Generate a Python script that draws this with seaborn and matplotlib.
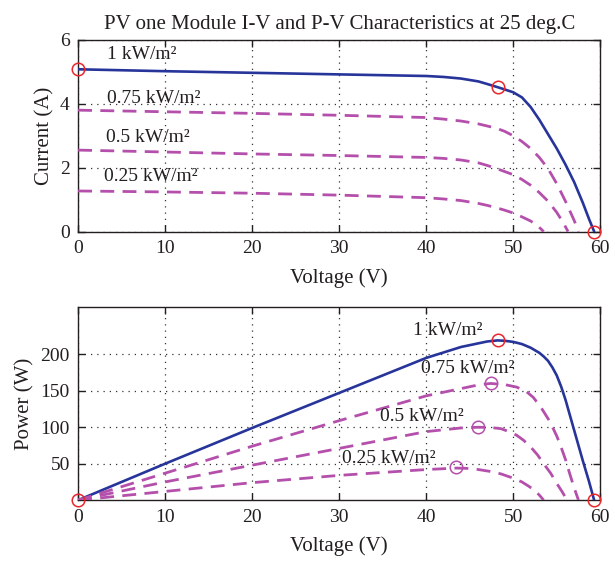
import matplotlib
matplotlib.use("Agg")
import matplotlib.pyplot as plt
import seaborn as sns
import pandas as pd

# ---- data ----
# I-V curves (voltage in V, current in A)
v_iv_1000 = [0, 10, 20, 30, 40, 42, 44, 46, 47, 48.2, 49, 50, 51, 52, 53, 54, 55, 56, 57, 58, 58.7, 59.3]
i_iv_1000 = [5.08, 5.02, 4.97, 4.92, 4.87, 4.84, 4.79, 4.70, 4.62, 4.52, 4.45, 4.36, 4.20, 3.90,
             3.50, 3.05, 2.60, 2.10, 1.55, 0.90, 0.40, 0.0]

v_iv_750 = [0, 10, 20, 30, 40, 42, 44, 46, 48, 49, 50, 51, 52, 53, 54, 55, 56, 57, 57.5]
i_iv_750 = [3.80, 3.75, 3.70, 3.64, 3.57, 3.52, 3.46, 3.37, 3.24, 3.14, 3.0, 2.82, 2.60, 2.32,
            1.97, 1.50, 0.95, 0.35, 0.0]

v_iv_500 = [0, 10, 20, 30, 40, 42, 44, 46, 47, 48, 49, 50, 51, 52, 53, 54, 55, 55.7, 56.3]
i_iv_500 = [2.55, 2.49, 2.43, 2.38, 2.32, 2.29, 2.24, 2.15, 2.07, 1.98, 1.88, 1.78, 1.63, 1.45,
            1.22, 0.95, 0.60, 0.30, 0.0]

v_iv_250 = [0, 10, 20, 30, 40, 42, 44, 46, 47, 48, 49, 50, 51, 52, 52.8, 53.5]
i_iv_250 = [1.27, 1.24, 1.20, 1.14, 1.06, 1.02, 0.97, 0.88, 0.82, 0.75, 0.67, 0.58, 0.46, 0.33,
            0.18, 0.0]

# P-V curves (voltage in V, power in W)
v_pv_1000 = [0, 10, 20, 30, 40, 44, 46, 47, 48.2, 49, 50, 51, 52, 53, 53.5, 54, 54.5, 55, 55.5,
             56, 56.5, 57, 57.5, 58, 58.7, 59.3]
p_pv_1000 = [0, 50, 99, 147, 195, 210, 215, 217.5, 219, 218.5, 217, 214, 209, 202, 197, 191, 182,
             171, 156, 138, 117, 96, 75, 54, 26, 0]

v_pv_750 = [0, 10, 20, 30, 40, 44, 46, 47.4, 49, 50.4, 51.5, 52.3, 53.2, 54.2, 55, 55.4, 56,
            56.5, 57, 57.5]
p_pv_750 = [0, 37, 74, 109, 143, 153, 158, 160, 158.5, 155, 149, 141, 127, 108, 88, 76, 56, 36,
            17, 0]

v_pv_500 = [0, 10, 20, 30, 40, 44, 46, 47.5, 48.6, 49.5, 50.4, 51.2, 52, 52.8, 53.5, 54.3, 55,
            55.6, 56.2]
p_pv_500 = [0, 25, 48, 71, 94, 99, 100, 99.5, 98, 94, 89, 82, 73, 62, 50, 37, 23, 12, 0]

v_pv_250 = [0, 10, 20, 30, 40, 43.5, 45, 46, 47.3, 48.6, 49.8, 51, 51.8, 52.5, 53, 53.5]
p_pv_250 = [0, 12, 24, 34, 42, 44, 43.5, 42, 39.5, 36, 31, 25, 19, 13, 7, 0]

# marked points (open circles)
iv_red_v = [0, 48.2, 59.3]
iv_red_i = [5.08, 4.52, 0.0]
pv_red_v = [0, 48.2, 59.3]
pv_red_p = [0, 219, 0]
pv_mag_v = [47.4, 46.0, 43.4]
pv_mag_p = [160, 100, 45]

irr_labels = ["1 kW/m²", "0.75 kW/m²", "0.5 kW/m²", "0.25 kW/m²"]
iv_label_pos = [(3.3, 5.55), (3.3, 4.16), (3.2, 2.96), (3.0, 1.71)]
pv_label_pos = [(38.5, 233), (39.4, 181), (34.7, 115), (30.3, 57.5)]

x_ticks = [0, 10, 20, 30, 40, 50, 60]
iv_yticks = [0, 2, 4, 6]
pv_yticks = [50, 100, 150, 200]

# ---- style ----
sns.set_theme(style="ticks")
plt.rcParams["font.family"] = ["Liberation Serif", "DejaVu Serif"]
plt.rcParams["text.color"] = "#231f20"
plt.rcParams["axes.labelcolor"] = "#231f20"
plt.rcParams["xtick.color"] = "#231f20"
plt.rcParams["ytick.color"] = "#231f20"

azul = "#27359b"
magenta = "#b450ac"
rojo = "#e8262b"

fig = plt.figure(figsize=(6.15, 5.62), dpi=100)
ax1 = fig.add_axes([0.127, 0.588, 0.849, 0.341])
ax2 = fig.add_axes([0.127, 0.110, 0.849, 0.344])

curvas_iv = [(v_iv_1000, i_iv_1000), (v_iv_750, i_iv_750), (v_iv_500, i_iv_500), (v_iv_250, i_iv_250)]
curvas_pv = [(v_pv_1000, p_pv_1000), (v_pv_750, p_pv_750), (v_pv_500, p_pv_500), (v_pv_250, p_pv_250)]

for ax, curvas in [(ax1, curvas_iv), (ax2, curvas_pv)]:
    for k, (vv, yy) in enumerate(curvas):
        df = pd.DataFrame({"V": vv, "Y": yy})
        if k == 0:
            sns.lineplot(data=df, x="V", y="Y", ax=ax, color=azul, lw=1.9,
                         sort=False, estimator=None, zorder=3)
        else:
            sns.lineplot(data=df, x="V", y="Y", ax=ax, color=magenta, lw=2.0,
                         sort=False, estimator=None, zorder=3, dashes=False,
                         linestyle=(0, (5, 3)))

ax1.plot(iv_red_v, iv_red_i, "o", ms=9, mfc="none", mec=rojo, mew=1.1, zorder=4, clip_on=False)
ax2.plot(pv_red_v, pv_red_p, "o", ms=9, mfc="none", mec=rojo, mew=1.1, zorder=4, clip_on=False)
ax2.plot(pv_mag_v, pv_mag_p, "o", ms=9, mfc="none", mec=magenta, mew=1.1, zorder=4)

for txt, (x, y) in zip(irr_labels, iv_label_pos):
    ax1.text(x, y, txt, fontsize=14, va="center", ha="left")
for txt, (x, y) in zip(irr_labels, pv_label_pos):
    ax2.text(x, y, txt, fontsize=14, va="center", ha="left")

ax1.set_xlim(0, 60)
ax1.set_ylim(0, 6)
ax1.set_yticks(iv_yticks)
ax2.set_xlim(0, 60)
ax2.set_ylim(0, 265)
ax2.set_yticks(pv_yticks)

for ax in (ax1, ax2):
    ax.set_xticks(x_ticks)
    ax.grid(True, linestyle=(0, (1, 4)), color="#333333", lw=0.9)
    ax.tick_params(direction="in", top=True, right=True, length=5, width=1,
                   labelsize=14, pad=6)
    for s in ax.spines.values():
        s.set_linewidth(1.0)
        s.set_color("#231f20")
    ax.set_xlabel("Voltage (V)", fontsize=15, labelpad=8)

ax1.set_ylabel("Current (A)", fontsize=15)
ax2.set_ylabel("Power (W)", fontsize=15)
ax1.set_title("PV one Module I-V and P-V Characteristics at 25 deg.C", fontsize=15, pad=8)

fig.savefig("out.png", dpi=100)
